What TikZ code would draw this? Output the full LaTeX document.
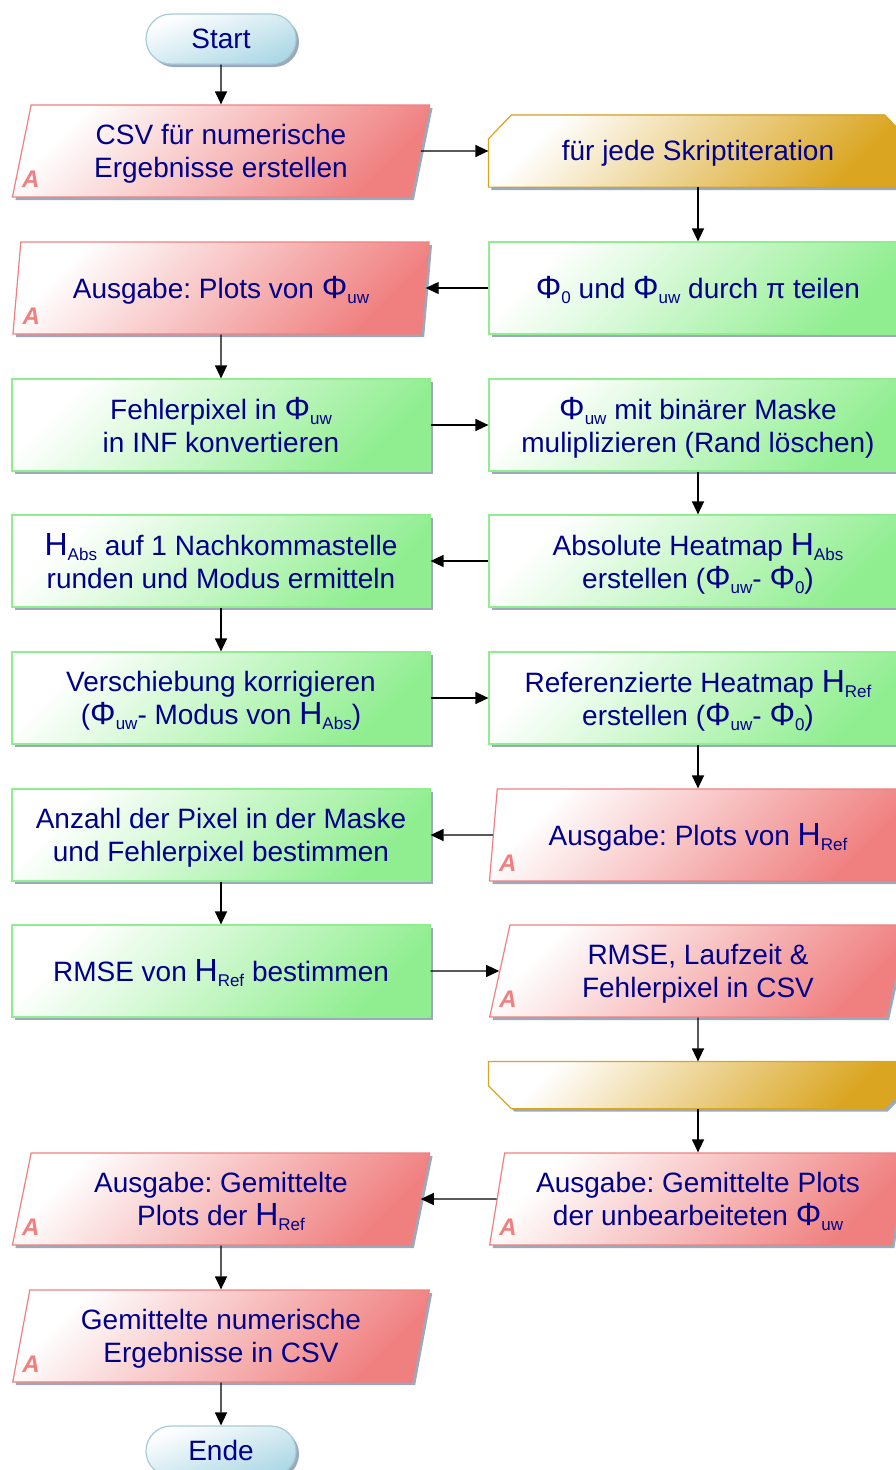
\documentclass[tikz,border=0pt]{standalone}
\usepackage{fontspec}
\setmainfont{Liberation Sans}
\usetikzlibrary{arrows.meta,shapes.geometric,shapes.misc,shadows,calc,backgrounds}

\definecolor{txtblau}{RGB}{0,0,139}
\definecolor{gruen}{RGB}{144,238,144}
\definecolor{rot}{RGB}{240,128,128}
\definecolor{gold}{RGB}{218,165,32}
\definecolor{hblau}{RGB}{173,216,230}
\definecolor{schatten}{RGB}{130,148,170}

\frenchspacing
\newcommand{\Sym}[2]{{\fontsize{32}{33}\selectfont #1}\raisebox{-5pt}{\fontsize{17}{17}\selectfont #2}}

\tikzset{
	schatten/.style={drop shadow={shadow xshift=3pt, shadow yshift=-3pt, fill=schatten, opacity=.8}},
	basis/.style={text=txtblau, align=center, font=\fontsize{28}{33}\selectfont, line width=1.2pt, inner sep=2pt,
		text depth=1pt},
	prozess/.style={basis, schatten, rectangle, draw=gruen, top color=white, bottom color=gruen, shading angle=45,
		minimum width=418pt, minimum height=92pt},
	ausgabe/.style={basis, schatten, trapezium, trapezium left angle=77.7, trapezium right angle=102.3, trapezium stretches=true,
		draw=rot, top color=white, bottom color=rot, shading angle=45, minimum width=418pt, minimum height=92pt,
		label={[marke, anchor=center, xshift=19pt, yshift=18pt]bottom left corner:A}},
	marke/.style={text=rot, font=\fontsize{24}{24}\selectfont\bfseries\itshape, inner sep=0pt},
	schleife/.style={basis, rectangle, minimum width=418pt},
	schleifeform/.style={schatten, draw=gold, line width=1.2pt, top color=white, bottom color=gold, shading angle=45},
	terminal/.style={basis, schatten, rounded rectangle, draw=hblau!85!gray, top color=white, bottom color=hblau, shading angle=20,
		minimum width=154pt, minimum height=50pt},
	pfeil/.style={-{Triangle[length=13pt,width=12pt]}, line width=1.3pt}
}

\begin{document}
\begin{tikzpicture}[x=1pt,y=-1pt]
		\useasboundingbox (0,0) rectangle (896,1470);
		\node[terminal] (start) at (221,39) {Start};
		\node[ausgabe] (csv) at (221,151) {CSV für numerische\\Ergebnisse erstellen};
		\node[schleife, minimum height=71pt] (loopA) at (698,151) {für jede Skriptiteration};
		\node[prozess] (teilen) at (698,288) {\Sym{Φ}{0} und \Sym{Φ}{uw} durch π teilen};
		\node[ausgabe] (plotphi) at (221,288) {Ausgabe: Plots von \Sym{Φ}{uw}};
		\node[prozess] (fehler) at (221,425) {Fehlerpixel in \Sym{Φ}{uw}\\in INF konvertieren};
		\node[prozess] (maske) at (698,425) {\Sym{Φ}{uw} mit binärer Maske\\muliplizieren (Rand löschen)};
		\node[prozess] (habs) at (698,561) {Absolute Heatmap \Sym{H}{Abs}\\erstellen (\Sym{Φ}{uw}- \Sym{Φ}{0})};
		\node[prozess] (runden) at (221,561) {\Sym{H}{Abs} auf 1 Nachkommastelle\\runden und Modus ermitteln};
		\node[prozess] (versch) at (221,698) {Verschiebung korrigieren\\(\Sym{Φ}{uw}- Modus von \Sym{H}{Abs})};
		\node[prozess] (href) at (698,698) {Referenzierte Heatmap \Sym{H}{Ref}\\erstellen (\Sym{Φ}{uw}- \Sym{Φ}{0})};
		\node[ausgabe] (plothref) at (698,835) {Ausgabe: Plots von \Sym{H}{Ref}};
		\node[prozess] (anzahl) at (221,835) {Anzahl der Pixel in der Maske\\und Fehlerpixel bestimmen};
		\node[prozess] (rmse) at (221,971) {RMSE von \Sym{H}{Ref} bestimmen};
		\node[ausgabe] (rmsecsv) at (698,971) {RMSE, Laufzeit \&\\Fehlerpixel in CSV};
		\node[schleife, minimum height=46pt] (loopE) at (698,1085) {};
		\node[ausgabe] (mittelphi) at (698,1199) {Ausgabe: Gemittelte Plots\\der unbearbeiteten \Sym{Φ}{uw}};
		\node[ausgabe] (mittelhref) at (221,1199) {Ausgabe: Gemittelte\\Plots der \Sym{H}{Ref}};
		\node[ausgabe] (mittelcsv) at (221,1336) {Gemittelte numerische\\Ergebnisse in CSV};
		\node[terminal] (ende) at (221,1451) {Ende};
		% Schleifenbegrenzung
		\begin{scope}[on background layer]
			\filldraw[schleifeform] (loopA.south west) -- ($(loopA.north west)+(0,24)$) -- ($(loopA.north west)+(23,0)$)
				-- ($(loopA.north east)+(-23,0)$) -- ($(loopA.north east)+(0,24)$) -- (loopA.south east) -- cycle;
			\filldraw[schleifeform] (loopE.north west) -- ($(loopE.south west)+(0,-23)$) -- ($(loopE.south west)+(23,0)$)
				-- ($(loopE.south east)+(-23,0)$) -- ($(loopE.south east)+(0,-23)$) -- (loopE.north east) -- cycle;
		\end{scope}
		\draw[pfeil] (start) -- (csv);
		\draw[pfeil] (csv) -- (loopA);
		\draw[pfeil] (loopA) -- (teilen);
		\draw[pfeil] (teilen) -- (plotphi);
		\draw[pfeil] (plotphi) -- (fehler);
		\draw[pfeil] (fehler) -- (maske);
		\draw[pfeil] (maske) -- (habs);
		\draw[pfeil] (habs) -- (runden);
		\draw[pfeil] (runden) -- (versch);
		\draw[pfeil] (versch) -- (href);
		\draw[pfeil] (href) -- (plothref);
		\draw[pfeil] (plothref) -- (anzahl);
		\draw[pfeil] (anzahl) -- (rmse);
		\draw[pfeil] (rmse) -- (rmsecsv);
		\draw[pfeil] (rmsecsv) -- (loopE);
		\draw[pfeil] (loopE) -- (mittelphi);
		\draw[pfeil] (mittelphi) -- (mittelhref);
		\draw[pfeil] (mittelhref) -- (mittelcsv);
		\draw[pfeil] (mittelcsv) -- (ende);
\end{tikzpicture}
\end{document}
